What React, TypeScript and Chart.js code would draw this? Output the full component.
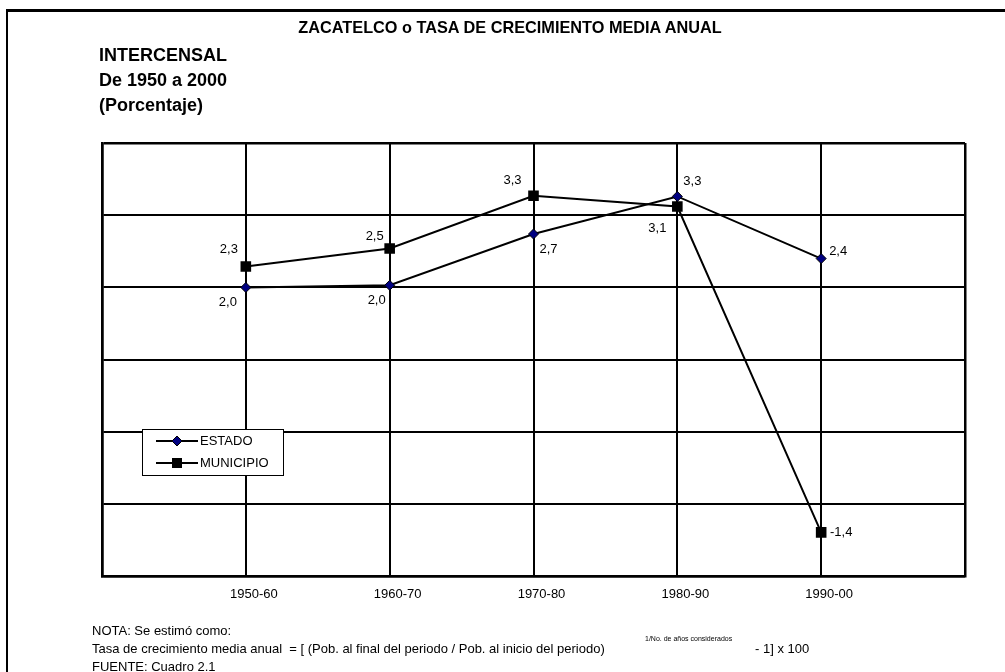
import React, { useEffect, useRef } from 'react';
import { Chart, registerables } from 'chart.js';

Chart.register(...registerables);

const FONT = '"Liberation Sans", Arial, Helvetica, sans-serif';

const categories = ['1950-60', '1960-70', '1970-80', '1980-90', '1990-00'];
const estado = [2.0, 2.03, 2.74, 3.26, 2.4];
const municipio = [2.29, 2.54, 3.27, 3.12, -1.39];
const seriesNames = ['ESTADO', 'MUNICIPIO'];
const yMin = -2;
const yMax = 4;
const yStep = 1;

const title = 'ZACATELCO o TASA DE CRECIMIENTO MEDIA ANUAL';
const subtitleLines = ['INTERCENSAL', 'De 1950 a 2000', '(Porcentaje)'];

// label placement (pixel offsets from each point)
const labelOffsets: number[][][] = [
  [[-18, 15], [-13, 15], [15, 15], [15, -15], [17, -7]],
  [[-17, -17], [-15, -12], [-21, -15], [-20, 22], [20, 0]],
];

const fmt = (v: number) => v.toFixed(1).replace('.', ',');

const drawDiamond = (ctx: CanvasRenderingContext2D, x: number, y: number, r: number) => {
  ctx.beginPath();
  ctx.moveTo(x, y - r);
  ctx.lineTo(x + r, y);
  ctx.lineTo(x, y + r);
  ctx.lineTo(x - r, y);
  ctx.closePath();
  ctx.fillStyle = '#000080';
  ctx.fill();
  ctx.lineWidth = 1;
  ctx.strokeStyle = '#000';
  ctx.stroke();
};

const pointLabels = {
  id: 'pointLabels',
  afterDatasetsDraw(chart: any) {
    const ctx = chart.ctx as CanvasRenderingContext2D;
    ctx.save();
    ctx.font = `13px ${FONT}`;
    ctx.fillStyle = '#000';
    ctx.textAlign = 'center';
    ctx.textBaseline = 'middle';
    chart.data.datasets.forEach((ds: any, di: number) => {
      const meta = chart.getDatasetMeta(di);
      meta.data.forEach((pt: any, i: number) => {
        const v = ds.data[i].y;
        const [dx, dy] = labelOffsets[di][i];
        ctx.fillText(fmt(v), pt.x + dx, pt.y + dy);
      });
    });
    ctx.restore();
  },
};

const boxLegend = {
  id: 'boxLegend',
  afterDraw(chart: any) {
    const ctx = chart.ctx as CanvasRenderingContext2D;
    const a = chart.chartArea;
    const bx = a.left + 40;
    const by = a.top + 286;
    const bw = 141;
    const bh = 46;
    ctx.save();
    ctx.fillStyle = '#fff';
    ctx.fillRect(bx, by, bw, bh);
    ctx.lineWidth = 1;
    ctx.strokeStyle = '#000';
    ctx.strokeRect(bx + 0.5, by + 0.5, bw, bh);
    ctx.font = `13px ${FONT}`;
    ctx.textAlign = 'left';
    ctx.textBaseline = 'middle';
    seriesNames.forEach((name, i) => {
      const y = by + 12 + i * 22;
      ctx.beginPath();
      ctx.moveTo(bx + 14, y);
      ctx.lineTo(bx + 56, y);
      ctx.lineWidth = 2;
      ctx.strokeStyle = '#000';
      ctx.stroke();
      const mx = bx + 35;
      if (i === 0) {
        drawDiamond(ctx, mx, y, 5);
      } else {
        ctx.fillStyle = '#000';
        ctx.fillRect(mx - 5, y - 5, 10, 10);
      }
      ctx.fillStyle = '#000';
      ctx.fillText(name, bx + 58, y);
    });
    ctx.restore();
  },
};

export default function App() {
  const ref = useRef<HTMLCanvasElement>(null);

  useEffect(() => {
    if (!ref.current) return;
    const chart = new Chart(ref.current, {
      type: 'line',
      data: {
        datasets: [
          {
            label: seriesNames[0],
            data: estado.map((v, i) => ({ x: i + 1, y: v })),
            borderColor: '#000',
            borderWidth: 2,
            pointStyle: 'rectRot',
            pointRadius: 5,
            pointBackgroundColor: '#000080',
            pointBorderColor: '#000',
            pointBorderWidth: 1,
            tension: 0,
          },
          {
            label: seriesNames[1],
            data: municipio.map((v, i) => ({ x: i + 1, y: v })),
            borderColor: '#000',
            borderWidth: 2,
            pointStyle: 'rect',
            pointRadius: 7.5,
            pointBackgroundColor: '#000',
            pointBorderColor: '#000',
            pointBorderWidth: 0,
            tension: 0,
          },
        ],
      },
      options: {
        responsive: false,
        animation: false,
        layout: { padding: { left: 102, top: 143, right: 40, bottom: 60 } },
        plugins: {
          legend: { display: false },
          title: { display: false },
          tooltip: { enabled: false },
        },
        scales: {
          x: {
            type: 'linear',
            min: 0,
            max: categories.length + 1,
            grid: {
              color: '#000',
              lineWidth: (c: any) => (c.tick && (c.tick.value === 0 || c.tick.value === categories.length + 1) ? 2.5 : 2),
              drawTicks: false,
            },
            border: { display: true, color: '#000', width: 2.5 },
            ticks: {
              stepSize: 1,
              autoSkip: false,
              maxRotation: 0,
              padding: 10,
              labelOffset: 8,
              color: '#000',
              font: { family: FONT, size: 13 },
              callback: (v: any) => categories[Number(v) - 1] ?? '',
            },
          },
          y: {
            type: 'linear',
            min: yMin,
            max: yMax,
            grid: {
              color: '#000',
              lineWidth: (c: any) => (c.tick && (c.tick.value === yMin || c.tick.value === yMax) ? 2.5 : 2),
              drawTicks: false,
            },
            border: { display: true, color: '#000', width: 2.5 },
            ticks: { stepSize: yStep, display: false },
          },
        },
      },
      plugins: [pointLabels, boxLegend],
    } as any);
    return () => chart.destroy();
  }, []);

  return (
    <div
      style={{
        position: 'absolute',
        left: 0,
        top: 0,
        width: 1005,
        height: 672,
        overflow: 'hidden',
        background: '#fff',
        fontFamily: FONT,
        color: '#000',
      }}
    >
      <div
        style={{
          position: 'absolute',
          left: 6,
          top: 9,
          width: 1100,
          height: 800,
          borderTop: '3px solid #000',
          borderLeft: '2px solid #000',
        }}
      />
      <canvas
        ref={ref}
        width={1005}
        height={672}
        style={{ position: 'absolute', left: 0, top: 0, width: 1005, height: 672 }}
      />
      <div
        style={{
          position: 'absolute',
          left: 0,
          top: 17,
          width: 1020,
          textAlign: 'center',
          fontSize: 16.3,
          fontWeight: 'bold',
          lineHeight: '20px',
          whiteSpace: 'nowrap',
        }}
      >
        {title}
      </div>
      <div
        style={{
          position: 'absolute',
          left: 99,
          top: 43,
          fontSize: 18,
          fontWeight: 'bold',
          lineHeight: '25px',
          whiteSpace: 'nowrap',
        }}
      >
        {subtitleLines.map((l) => (
          <div key={l}>{l}</div>
        ))}
      </div>
      <div
        style={{
          position: 'absolute',
          left: 92,
          top: 622,
          fontSize: 13,
          lineHeight: '18px',
          whiteSpace: 'pre',
        }}
      >
        <div>NOTA: Se estimó como:</div>
        <div>Tasa de crecimiento media anual  = [ (Pob. al final del periodo / Pob. al inicio del periodo)</div>
        <div>FUENTE: Cuadro 2.1</div>
      </div>
      <div
        style={{
          position: 'absolute',
          left: 645,
          top: 635,
          fontSize: 7,
          lineHeight: '8px',
          whiteSpace: 'nowrap',
        }}
      >
        1/No. de años considerados
      </div>
      <div
        style={{
          position: 'absolute',
          left: 755,
          top: 640,
          fontSize: 13,
          lineHeight: '18px',
          whiteSpace: 'nowrap',
        }}
      >
        - 1] x 100
      </div>
    </div>
  );
}
